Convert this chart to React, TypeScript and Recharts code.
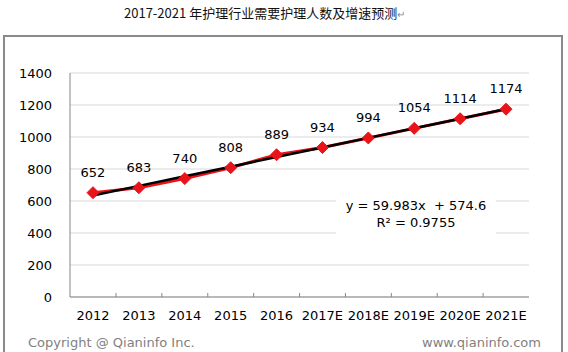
import { LineChart, Line, XAxis, YAxis, CartesianGrid, LabelList } from "recharts";

// Years on the category axis
const YEARS = ["2012", "2013", "2014", "2015", "2016", "2017E", "2018E", "2019E", "2020E", "2021E"];
// Nursing staff needed (thousands)
const DEMAND = [652, 683, 740, 808, 889, 934, 994, 1054, 1114, 1174];
// Linear trendline values y = 59.983x + 574.6, read at each year
const TREND = [634.6, 694.6, 754.5, 814.5, 874.5, 934.5, 994.5, 1054.5, 1114.4, 1174.4];
const Y_TICKS = [0, 200, 400, 600, 800, 1000, 1200, 1400];

const FONT = "'DejaVu Sans', Verdana, sans-serif";
const AXIS_GRAY = "#868686";
const HALF_BAND = 23;

const data = YEARS.map((year, i) => ({ year, demand: DEMAND[i], trend: TREND[i] }));

/* eslint-disable @typescript-eslint/no-explicit-any */
function XTick(props: any) {
  const { x, y, payload, index, visibleTicksCount } = props;
  const last = index === (visibleTicksCount ?? YEARS.length) - 1;
  return (
    <g>
      <text
        x={x}
        y={y + 18}
        textAnchor="middle"
        dominantBaseline="central"
        fontSize={13}
        fontFamily={FONT}
        fill="#000"
      >
        {payload.value}
      </text>
      {!last && (
        <line x1={x + HALF_BAND} x2={x + HALF_BAND} y1={y - 4} y2={y} stroke={AXIS_GRAY} />
      )}
    </g>
  );
}

function Diamond(props: any) {
  const { cx, cy } = props;
  if (cx == null || cy == null) return <g />;
  const r = 6;
  return (
    <polygon
      points={`${cx},${cy - r} ${cx + r},${cy} ${cx},${cy + r} ${cx - r},${cy}`}
      fill="#e8141a"
      stroke="#e8141a"
    />
  );
}
/* eslint-enable @typescript-eslint/no-explicit-any */

export default function App() {
  return (
    <div style={{ position: "fixed", left: 0, top: 0, width: 568, height: 352, background: "#fff", overflow: "hidden" }}>
      <div
        style={{
          position: "absolute",
          left: 124,
          top: 4,
          fontFamily: "'Noto Sans CJK SC', sans-serif",
          fontSize: 13,
          color: "#111",
          whiteSpace: "nowrap",
          lineHeight: "18px",
        }}
      >
        2017-2021 年护理行业需要护理人数及增速预测<span style={{ color: "#7a8fb0", fontSize: 10 }}>↵</span>
      </div>
      <div
        style={{
          position: "absolute",
          left: 3,
          top: 35,
          width: 556,
          height: 340,
          border: "2px solid #8a8a8a",
        }}
      />
      <div style={{ position: "absolute", left: 0, top: 0 }}>
        <LineChart width={568} height={352} data={data} margin={{ top: 73, right: 39, bottom: 25, left: 0 }}>
          <CartesianGrid vertical={false} stroke="#d9d9d9" />
          <XAxis
            dataKey="year"
            height={30}
            tickSize={0}
            tickMargin={0}
            interval={0}
            padding={{ left: HALF_BAND, right: HALF_BAND }}
            axisLine={{ stroke: AXIS_GRAY }}
            tick={<XTick />}
          />
          <XAxis
            xAxisId="top"
            dataKey="year"
            orientation="top"
            height={0}
            tick={false}
            tickLine={false}
            axisLine={{ stroke: AXIS_GRAY }}
          />
          <YAxis
            width={70}
            domain={[0, 1400]}
            ticks={Y_TICKS}
            interval={0}
            tickLine={false}
            tickMargin={12}
            axisLine={{ stroke: AXIS_GRAY }}
            tick={{ fontSize: 13, fontFamily: FONT, fill: "#000" }}
          />
          <YAxis
            yAxisId="right"
            orientation="right"
            width={0}
            domain={[0, 1400]}
            tick={false}
            tickLine={false}
            axisLine={{ stroke: AXIS_GRAY }}
          />
          <Line
            dataKey="demand"
            stroke="#e8141a"
            strokeWidth={3}
            dot={<Diamond />}
            activeDot={false}
            isAnimationActive={false}
          >
            <LabelList
              dataKey="demand"
              position="top"
              offset={16}
              fontSize={13}
              fontFamily={FONT}
              fill="#000"
            />
          </Line>
          <Line
            dataKey="trend"
            stroke="#000"
            strokeWidth={2.5}
            dot={false}
            activeDot={false}
            isAnimationActive={false}
          />
        </LineChart>
      </div>
      <div
        style={{
          position: "absolute",
          left: 336,
          top: 194,
          width: 160,
          height: 44,
          background: "#fff",
          fontFamily: FONT,
          fontSize: 13,
          color: "#000",
          textAlign: "center",
          lineHeight: "17px",
          paddingTop: 3,
          boxSizing: "border-box",
        }}
      >
        <div>y = 59.983x&nbsp; + 574.6</div>
        <div>R² = 0.9755</div>
      </div>
      <div
        style={{
          position: "absolute",
          left: 28,
          top: 335,
          fontFamily: FONT,
          fontSize: 13,
          color: "#7f7f7f",
          whiteSpace: "nowrap",
        }}
      >
        Copyright @ Qianinfo Inc.
      </div>
      <div
        style={{
          position: "absolute",
          right: 27,
          top: 335,
          fontFamily: FONT,
          fontSize: 13,
          color: "#7f7f7f",
          whiteSpace: "nowrap",
        }}
      >
        www.qianinfo.com
      </div>
    </div>
  );
}
